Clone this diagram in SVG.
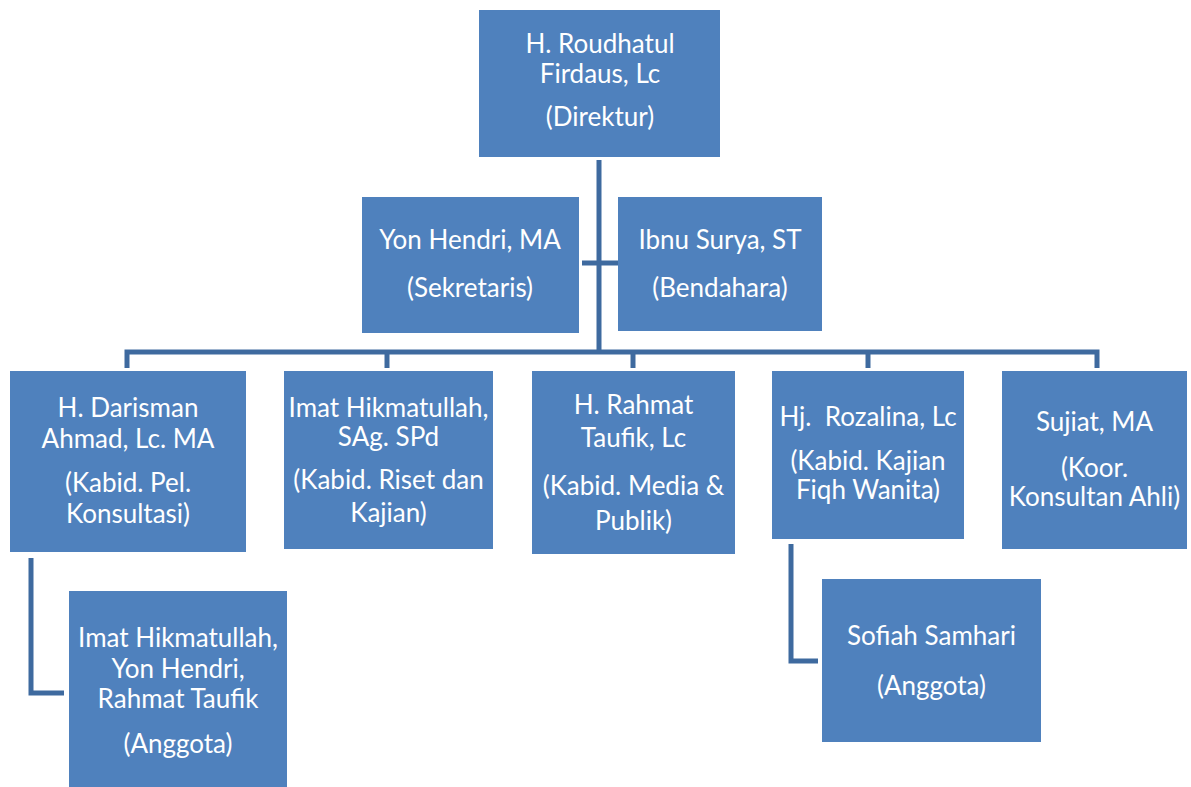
<svg xmlns="http://www.w3.org/2000/svg" width="1191" height="787" viewBox="0 0 1191 787">
  <style>
    .box { fill: #4F81BD; }
    .lbl { font-family: Lato, "Open Sans", "Liberation Sans", sans-serif; font-size: 26px; fill: #FFFFFF; text-anchor: middle; }
    .wire { fill: none; stroke: #3E6A9F; stroke-width: 5; stroke-linejoin: miter; }
  </style>
  <rect width="1191" height="787" fill="#FFFFFF"/>

  <!-- connectors -->
  <g id="connectors">
    <path class="wire" d="M599,160 V352"/>
    <path class="wire" d="M582,263 H619"/>
    <path class="wire" d="M127,368 V352 H1097 V368"/>
    <path class="wire" d="M387,352 V368"/>
    <path class="wire" d="M633,352 V368"/>
    <path class="wire" d="M868,352 V368"/>
    <path class="wire" d="M31,558 V693 H64"/>
    <path class="wire" d="M791,544 V661 H818"/>
  </g>

  <g id="direktur">
    <rect class="box" x="479" y="10" width="241" height="147"/>
    <text class="lbl" x="600" y="53">H. Roudhatul</text>
    <text class="lbl" x="600" y="83">Firdaus, Lc</text>
    <text class="lbl" x="600" y="126">(Direktur)</text>
  </g>

  <g id="sekretaris">
    <rect class="box" x="362" y="197" width="217" height="136"/>
    <text class="lbl" x="470" y="249">Yon Hendri, MA</text>
    <text class="lbl" x="470" y="297">(Sekretaris)</text>
  </g>

  <g id="bendahara">
    <rect class="box" x="618" y="197" width="204" height="134"/>
    <text class="lbl" x="720" y="249">Ibnu Surya, ST</text>
    <text class="lbl" x="720" y="297">(Bendahara)</text>
  </g>

  <g id="kabid-konsultasi">
    <rect class="box" x="10" y="371" width="236" height="181"/>
    <text class="lbl" x="128" y="417">H. Darisman</text>
    <text class="lbl" x="128" y="448">Ahmad, Lc. MA</text>
    <text class="lbl" x="128" y="492">(Kabid. Pel.</text>
    <text class="lbl" x="128" y="523">Konsultasi)</text>
  </g>

  <g id="kabid-riset">
    <rect class="box" x="284" y="371" width="209" height="178"/>
    <text class="lbl" x="388.5" y="417">Imat Hikmatullah,</text>
    <text class="lbl" x="388.5" y="446">SAg. SPd</text>
    <text class="lbl" x="388.5" y="489">(Kabid. Riset dan</text>
    <text class="lbl" x="388.5" y="522">Kajian)</text>
  </g>

  <g id="kabid-media">
    <rect class="box" x="532" y="371" width="203" height="183"/>
    <text class="lbl" x="633.5" y="414">H. Rahmat</text>
    <text class="lbl" x="633.5" y="447">Taufik, Lc</text>
    <text class="lbl" x="633.5" y="495">(Kabid. Media &amp;</text>
    <text class="lbl" x="633.5" y="530">Publik)</text>
  </g>

  <g id="kabid-fiqh">
    <rect class="box" x="772" y="371" width="192" height="168"/>
    <text class="lbl" x="868" y="426" xml:space="preserve">Hj.  Rozalina, Lc</text>
    <text class="lbl" x="868" y="470">(Kabid. Kajian</text>
    <text class="lbl" x="868" y="499">Fiqh Wanita)</text>
  </g>

  <g id="koor-konsultan">
    <rect class="box" x="1002" y="371" width="185" height="178"/>
    <text class="lbl" x="1094.5" y="431">Sujiat, MA</text>
    <text class="lbl" x="1094.5" y="477">(Koor.</text>
    <text class="lbl" x="1094.5" y="506">Konsultan Ahli)</text>
  </g>

  <g id="anggota-konsultasi">
    <rect class="box" x="69" y="591" width="218" height="196"/>
    <text class="lbl" x="178" y="647">Imat Hikmatullah,</text>
    <text class="lbl" x="178" y="678">Yon Hendri,</text>
    <text class="lbl" x="178" y="708">Rahmat Taufik</text>
    <text class="lbl" x="178" y="753">(Anggota)</text>
  </g>

  <g id="anggota-fiqh">
    <rect class="box" x="822" y="579" width="219" height="163"/>
    <text class="lbl" x="931.5" y="645">Sofiah Samhari</text>
    <text class="lbl" x="931.5" y="695">(Anggota)</text>
  </g>
</svg>
